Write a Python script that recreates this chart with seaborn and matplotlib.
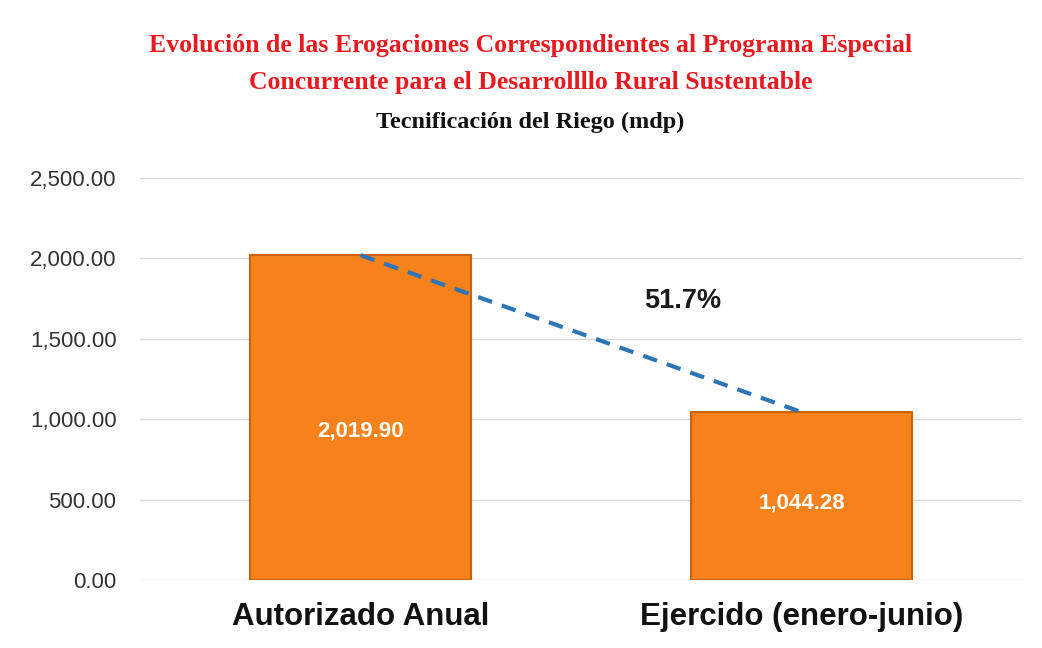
"""
Tecnificación del Riego — autorizado anual vs. ejercido (enero-junio), mdp.
"""
import matplotlib
matplotlib.use("Agg")
import matplotlib.pyplot as plt
import pandas as pd
import seaborn as sns

CATEGORIES = ["Autorizado Anual", "Ejercido (enero-junio)"]
VALUES = [2019.90, 1044.28]
Y_TICKS = [0, 500, 1000, 1500, 2000, 2500]
PCT_LABEL = "51.7%"

TITLE_1 = "Evolución de las Erogaciones Correspondientes al Programa Especial"
TITLE_2 = "Concurrente para el Desarrollllo Rural Sustentable"
SUBTITLE = "Tecnificación del Riego (mdp)"

sns.set_theme(style="white")
plt.rcParams["font.family"] = ["Liberation Sans", "DejaVu Sans"]

df = pd.DataFrame({"cat": CATEGORIES, "val": VALUES})

fig = plt.figure(figsize=(10.42, 6.48), dpi=100)
ax = fig.add_axes([0.1344, 0.1049, 0.8464, 0.6204])

sns.barplot(data=df, x="cat", y="val", color="#F7821B", width=0.5,
            edgecolor="#C8620C", linewidth=1.5, saturation=1, ax=ax, zorder=3)

# dashed trend between bar tops
ax.plot(range(len(VALUES)), VALUES, ls=(0, (3.5, 2.5)), color="#2E75B6",
        lw=3, zorder=4, clip_on=False)

for i, v in enumerate(VALUES):
    ax.text(i, v * 0.46, f"{v:,.2f}", ha="center", va="center",
            color="white", fontsize=16, fontweight="bold", zorder=5)

ax.text(0.73, 1735, PCT_LABEL, ha="center", va="center", fontsize=19.5,
        fontweight="bold", color="#1a1a1a")

ax.set_xlim(-0.5, 1.5)
ax.set_ylim(0, 2500)
ax.set_yticks(Y_TICKS)
ax.set_yticklabels([f"{t:,.2f}" for t in Y_TICKS], fontsize=16, color="#333333")
ax.tick_params(axis="y", pad=17, length=0)
ax.tick_params(axis="x", pad=16, length=0)
for lab in ax.get_xticklabels():
    lab.set_fontsize(22.5)
    lab.set_fontweight("bold")
    lab.set_color("#111111")
ax.set_xlabel("")
ax.set_ylabel("")
ax.yaxis.grid(True, color="#D9D9D9", lw=1, zorder=0)
ax.set_axisbelow(True)
sns.despine(ax=ax, left=True, bottom=True, top=True, right=True)

serif = ["Liberation Serif", "DejaVu Serif"]
fig.text(0.509, 0.930, TITLE_1, ha="center", va="center", color="#E8191F",
         fontsize=18.5, fontweight="bold", family=serif)
fig.text(0.509, 0.873, TITLE_2, ha="center", va="center", color="#E8191F",
         fontsize=18.5, fontweight="bold", family=serif)
fig.text(0.509, 0.811, SUBTITLE, ha="center", va="center", color="#111111",
         fontsize=17.5, fontweight="bold", family=serif)

fig.savefig("out.png", dpi=100)
